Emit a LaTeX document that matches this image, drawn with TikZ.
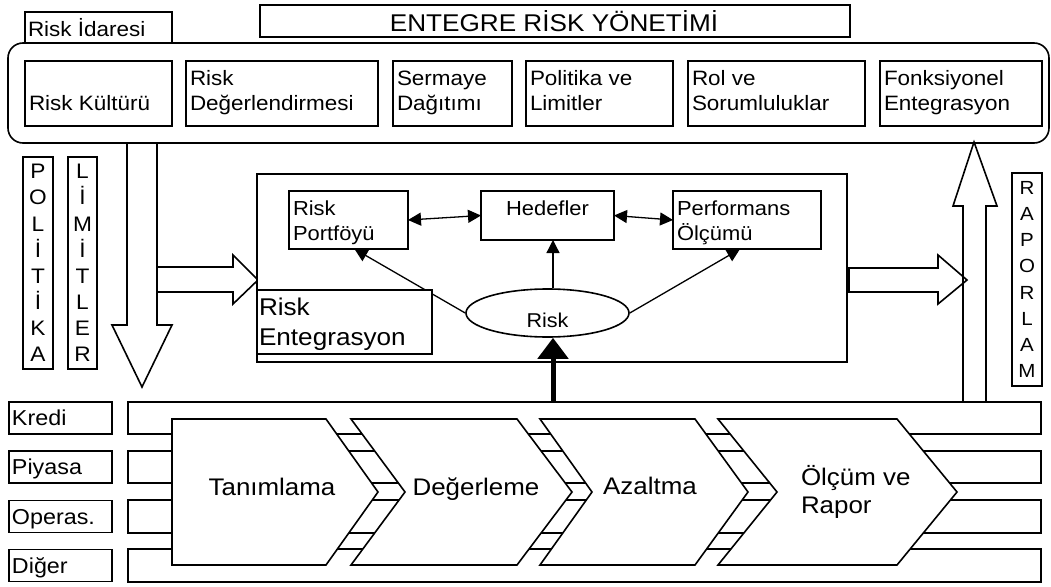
\documentclass[tikz,border=0pt]{standalone}
\usepackage{fontspec}
\setmainfont{Liberation Sans}[FakeStretch=1.08]
\usetikzlibrary{arrows.meta,shapes.geometric}
\newcommand\fsz[2]{\fontsize{#1}{#2}\selectfont}
\newcommand\stackl[1]{\begin{tabular}[t]{@{}l@{}}#1\end{tabular}}

\begin{document}
\begin{tikzpicture}[x=1pt,y=-1pt,line width=1.6pt,
  rect/.style n args={4}{rectangle,inner sep=0pt,outer sep=0pt,
    minimum width={(#3-#1)*1pt},minimum height={(#4-#2)*1pt},
    at={({(#1+#3)/2},{(#2+#4)/2})}},
  box/.style={draw,fill=white},
  txt/.style={inner sep=0pt,outer sep=0pt,anchor=base west},
  topfont/.style={font=\fsz{20.8}{25}},
  midfont/.style={font=\fsz{20.3}{25}},
  bigfont/.style={font=\fsz{24}{28}},
  letters/.style={draw,inner sep=0pt,align=center,font=\fsz{21}{26.1}},
  lab/.style={draw,inner xsep=3pt,inner ysep=0pt,outer sep=0pt,text height=15.5pt,
    text depth=0pt,text width=97pt,minimum height=32pt,align=left,font=\fsz{21.6}{26}},
  conn/.style={line width=1.3pt,-{Triangle[width=13pt,length=13pt]}},
  dconn/.style={line width=1.3pt,{Triangle[width=13pt,length=13pt]}-{Triangle[width=13pt,length=13pt]}},
  chev/.style={draw,fill=white,line join=miter},
  block/.style={draw,fill=white,line join=miter}
]
\fill[white] (0,0) rectangle (1051,586);
\useasboundingbox (0,0) rectangle (1051,586);

% ---- governance frame ----
\node[draw,rounded corners=15pt,rect={8}{43}{1049}{143}] (frame) {};
\node[box,rect={25}{12}{172}{43}] (idare) {};
\node[txt,topfont] (t-idare) at (28,37) {Risk İdaresi};
\node[box,rect={260}{5}{850}{37}] (title) {};
\node[inner sep=0pt,anchor=base,font=\fsz{24.2}{28}] (t-title) at (554,32) {ENTEGRE RİSK YÖNETİMİ};

\node[box,rect={25}{61}{172}{126}] (kultur) {};
\node[box,rect={186}{61}{378}{126}] (deger) {};
\node[box,rect={393}{61}{512}{126}] (serm) {};
\node[box,rect={526}{61}{673}{126}] (polit) {};
\node[box,rect={688}{61}{865}{126}] (rol) {};
\node[box,rect={880}{61}{1042}{126}] (fonk) {};
\node[txt,topfont] (t-kultur) at (29,110) {Risk Kültürü};
\node[txt,topfont] (t-deger) at (190,85) {\stackl{Risk\\Değerlendirmesi}};
\node[txt,topfont] (t-serm) at (397,85) {\stackl{Sermaye\\Dağıtımı}};
\node[txt,topfont] (t-polit) at (530,85) {\stackl{Politika ve\\Limitler}};
\node[txt,topfont] (t-rol) at (692,85) {\stackl{Rol ve\\Sorumluluklar}};
\node[txt,topfont] (t-fonk) at (884,85) {\stackl{Fonksiyonel\\Entegrasyon}};

% ---- downward policy arrow and feed into the integration box ----
\draw[block] (127,143) -- (157,143) -- (157,325) -- (172,325) -- (142,387)
  -- (112,325) -- (127,325) -- cycle;
\draw[line join=miter] (157,267) -- (233,267) -- (233,255) -- (258,280)
  -- (233,304) -- (233,292) -- (157,292);

\node[letters,rect={23}{157}{53}{369}] (politika) {P\\O\\L\\İ\\T\\İ\\K\\A};
\node[letters,rect={68}{157}{97}{369}] (limitler) {L\\İ\\M\\İ\\T\\L\\E\\R};

% ---- risk integration box ----
\node[box,rect={257}{174}{847}{362}] (integ) {};
\node[box,rect={289}{191}{408}{249}] (port) {};
\node[box,rect={481}{191}{614}{240}] (hed) {};
\node[box,rect={673}{191}{821}{249}] (perf) {};
\node[txt,midfont] (t-port) at (293,215) {\stackl{Risk\\Portföyü}};
\node[inner sep=0pt,anchor=base,midfont] (t-hed) at (547.5,215) {Hedefler};
\node[txt,midfont] (t-perf) at (677,215) {\stackl{Performans\\Ölçümü}};

\node[draw,fill=white,ellipse,inner sep=0pt,minimum width=163pt,minimum height=48pt,
  text height=28pt,text depth=0pt,font=\fsz{20}{24}] (risk) at (547.5,313) {Risk};
\coordinate (riskin) at (553,402);

\draw[dconn] (port.east) -- (hed.west);
\draw[dconn] (hed.east) -- (perf.west);
\draw[conn] (risk.west) -- ([xshift=6pt]port.south);
\draw[conn] (risk.east) -- ([xshift=-7pt]perf.south);
\draw[conn] (riskin |- risk.north) -- (riskin |- hed.south);

\node[box,rect={257}{290}{432}{354}] (enteg) {};
\node[txt,font=\fsz{24.2}{30}] (t-enteg) at (259,315) {\stackl{Risk\\Entegrasyon}};

% ---- reporting arrows ----
\draw[block] (849,268) -- (938,268) -- (938,255) -- (967,280) -- (938,304)
  -- (938,292) -- (849,292) -- cycle;
\draw[line join=miter] (963,402) -- (963,206) -- (953,206) -- (974,142)
  -- (997,206) -- (986,206) -- (986,402);
\node[letters,font=\fsz{19}{26.2},rect={1012}{173}{1042}{386}] (raporlam) {R\\A\\P\\O\\R\\L\\A\\M};

% ---- risk types and process bands ----
\node[draw,rect={128}{402}{1041}{434}] (band1) {};
\node[draw,rect={128}{451}{1041}{483}] (band2) {};
\node[draw,rect={128}{500}{1041}{533}] (band3) {};
\node[draw,rect={128}{549}{1041}{582}] (band4) {};
\node[lab,at={(60.5,418)}] (kredi) {Kredi};
\node[lab,at={(60.5,467)}] (piyasa) {Piyasa};
\node[lab,at={(60.5,516.5)}] (operas) {Operas.};
\node[lab,at={(60.5,565.5)}] (diger) {Diğer};

\draw[chev] (172,419) -- (326,419) -- (378,492) -- (326,565) -- (172,565) -- cycle;
\draw[chev] (351,419) -- (517,419) -- (572,492) -- (517,565) -- (351,565) -- (405,492) -- cycle;
\draw[chev] (540,419) -- (695,419) -- (748,492) -- (695,565) -- (540,565) -- (592,492) -- cycle;
\draw[chev] (718,419) -- (897,419) -- (957,492) -- (897,565) -- (718,565) -- (777,492) -- cycle;

\node[inner sep=0pt,anchor=base,bigfont] (t-tanim) at (272,495) {Tanımlama};
\node[inner sep=0pt,anchor=base,bigfont] (t-degerl) at (476,495) {Değerleme};
\node[inner sep=0pt,anchor=base,bigfont] (t-azalt) at (650,494) {Azaltma};
\node[txt,bigfont] (t-olcum) at (801,485) {\stackl{Ölçüm ve\\Rapor}};

% ---- process output feeding risk ----
\draw[line width=5pt,-{Triangle[width=30pt,length=21pt]}] (riskin) -- (riskin |- risk.south);
\end{tikzpicture}
\end{document}
